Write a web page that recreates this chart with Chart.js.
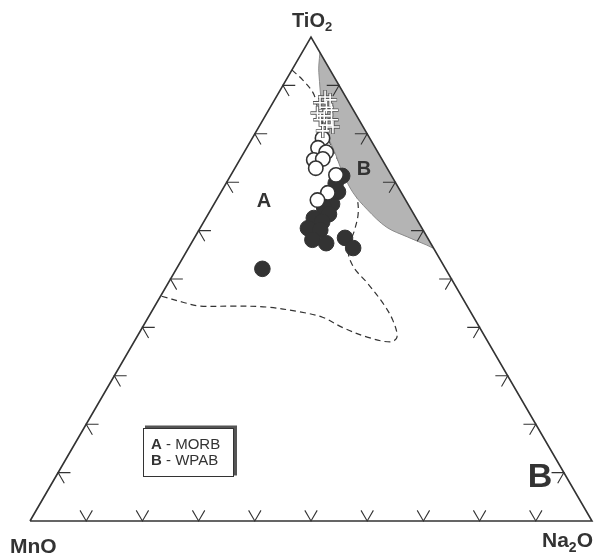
<!DOCTYPE html>
<html>
<head>
<meta charset="utf-8">
<script src="https://cdn.jsdelivr.net/npm/chart.js@4.4.0/dist/chart.umd.min.js"></script>
<style>
html, body { margin: 0; padding: 0; background: #fff; }
#wrap { position: relative; width: 595px; height: 557px; }
</style>
</head>
<body>
<div id="wrap"><canvas id="mychart" width="595" height="557"></canvas></div>
<script>
// values, each point is [TiO2, MnO, Na2O] in %
var crosses = [
    [87.6, 3.7, 8.7], [87.0, 3.1, 9.9], [86.4, 5.2, 8.4], [85.5, 4.5, 10.0],
    [84.9, 3.9, 11.2], [84.3, 6.7, 9.0], [83.7, 5.8, 10.5], [82.9, 4.9, 12.2],
    [82.9, 6.9, 10.2], [81.8, 6.3, 11.9], [81.4, 5.4, 13.2], [80.6, 7.6, 11.8]
];
var openDots = [
    [79.1, 8.4, 12.5], [77.1, 10.2, 12.7], [76.2, 9.2, 14.6], [74.6, 12.2, 13.2],
    [74.8, 10.5, 14.7], [72.9, 12.7, 14.4], [71.5, 9.8, 18.7], [67.8, 13.1, 19.1],
    [66.3, 15.7, 18.0]
];
var fullDots = [
    [71.3, 8.8, 19.9], [69.8, 10.7, 19.5], [68.0, 11.2, 20.8], [65.5, 13.5, 21.0],
    [64.7, 15.3, 20.0], [63.4, 15.1, 21.5], [62.6, 18.2, 19.2], [61.8, 17.1, 21.1],
    [60.5, 20.3, 19.2], [60.1, 18.3, 21.6], [58.1, 20.7, 21.2], [57.4, 18.6, 24.0],
    [58.5, 14.7, 26.8], [56.4, 14.3, 29.3], [52.1, 32.6, 15.3]
];
// field A (MORB) dashed outline
var fieldA = [
    [93.2, 6.8, 0], [91.1, 5.9, 3.0], [88.4, 5.4, 6.2], [85.5, 6.1, 8.4],
    [82.4, 6.8, 10.8], [78.7, 7.5, 13.8], [74.6, 7.9, 17.5], [70.5, 7.8, 21.7],
    [66.9, 8.4, 24.7], [63.6, 9.8, 26.6], [60.1, 12.2, 27.7], [56.0, 15.4, 28.6],
    [52.5, 16.2, 31.3], [49.2, 15.4, 35.4], [45.0, 14.7, 40.3], [41.5, 14.7, 43.8],
    [38.0, 15.7, 46.3], [37.0, 17.4, 45.6], [38.0, 21.0, 41.0], [39.9, 24.3, 35.8],
    [42.1, 26.9, 31.0], [43.2, 30.4, 26.4], [44.2, 35.7, 20.1], [44.4, 41.7, 13.9],
    [44.4, 47.6, 8.0], [45.2, 50.2, 4.6], [46.5, 53.5, 0]
];
// field B (WPAB) grey area, closed along the TiO2-Na2O side
var fieldB = [
    [96.8, 0, 3.2], [94.2, 1.5, 4.3], [92.6, 2.3, 5.1], [85.5, 5.3, 9.2],
    [80.2, 7.1, 12.7], [76.0, 7.7, 16.3], [71.9, 8.4, 19.7], [67.8, 8.6, 23.6],
    [64.3, 7.8, 27.9], [60.7, 6.2, 33.1], [58.7, 3.5, 37.8], [57.0, 0.9, 42.1],
    [56.3, 0, 43.7]
];
var tickSteps = [10, 20, 30, 40, 50, 60, 70, 80, 90];
var legendRows = [['A', ' - MORB'], ['B', ' - WPAB']];

function tern(p) {
    var s = p[0] + p[1] + p[2];
    var ti = p[0] / s * 100, na = p[2] / s * 100;
    return { x: na + ti / 2, y: ti };
}

var frame = [{x: 0, y: 0}, {x: 100, y: 0}, {x: 50, y: 100}, {x: 0, y: 0}];

// tick marks: two short strokes parallel to the other sides
var tk = 2.2;
var ticks = [];
tickSteps.forEach(function (t) {
    // bottom (MnO - Na2O)
    ticks.push({x: t - tk / 2, y: tk}, {x: t, y: 0}, {x: t + tk / 2, y: tk}, {x: 0, y: null});
    // left (MnO - TiO2)
    var lx = t / 2;
    ticks.push({x: lx + tk, y: t}, {x: lx, y: t}, {x: lx + tk / 2, y: t - tk}, {x: 0, y: null});
    // right (Na2O - TiO2)
    var rx = 100 - t / 2;
    ticks.push({x: rx - tk, y: t}, {x: rx, y: t}, {x: rx - tk / 2, y: t - tk}, {x: 0, y: null});
});

var ink = '#333333';
var bold = 'bold ';
var face = '"Liberation Sans", Arial, sans-serif';

function parts(ctx, list, x, y, size) {
    // list of [text, isSub]
    list.forEach(function (p) {
        var s = p[1] ? Math.round(size * 0.65) : size;
        ctx.font = bold + s + 'px ' + face;
        ctx.fillText(p[0], x, p[1] ? y + size * 0.22 : y);
        x += ctx.measureText(p[0]).width;
    });
}

var labelsPlugin = {
    id: 'ternLabels',
    afterDraw: function (chart) {
        var ctx = chart.ctx;
        ctx.save();
        ctx.fillStyle = ink;
        ctx.textBaseline = 'alphabetic';
        ctx.textAlign = 'left';
        parts(ctx, [['TiO', 0], ['2', 1]], 292, 27, 20);
        parts(ctx, [['MnO', 0]], 10, 553, 21);
        parts(ctx, [['Na', 0], ['2', 1], ['O', 0]], 542, 547, 21);

        ctx.textAlign = 'center';
        ctx.font = bold + '20px ' + face;
        ctx.fillText('A', 264, 207);
        ctx.fillText('B', 364, 175);
        ctx.font = bold + '34px ' + face;
        ctx.fillText('B', 540, 487);

        // legend box with offset shadow
        ctx.fillStyle = '#555';
        ctx.fillRect(145, 425.5, 92, 50);
        ctx.fillStyle = '#fff';
        ctx.fillRect(143, 428, 91, 49);
        ctx.strokeStyle = ink;
        ctx.lineWidth = 1;
        ctx.strokeRect(143.5, 428.5, 90, 48);
        ctx.fillStyle = ink;
        ctx.textAlign = 'left';
        legendRows.forEach(function (r, i) {
            var y = 449 + i * 16;
            ctx.font = bold + '15px ' + face;
            ctx.fillText(r[0], 151, y);
            var w = ctx.measureText(r[0]).width;
            ctx.font = '15px ' + face;
            ctx.fillText(r[1], 151 + w, y);
        });
        ctx.restore();
    }
};

var ctx = document.getElementById('mychart');
var myChart = new Chart(ctx, {
    type: 'scatter',
    data: {
        datasets: [
            {
                label: 'crosses',
                data: crosses.map(tern),
                pointStyle: 'cross',
                pointRadius: 6.5,
                borderColor: '#ffffff',
                borderWidth: 1.6,
                order: 0,
                clip: false
            },
            {
                label: 'crosses outline',
                data: crosses.map(tern),
                pointStyle: 'cross',
                pointRadius: 7,
                borderColor: '#555555',
                borderWidth: 3.4,
                order: 1,
                clip: false
            },
            {
                label: 'open',
                data: openDots.map(tern),
                pointRadius: 7.2,
                backgroundColor: '#ffffff',
                borderColor: ink,
                borderWidth: 1.6,
                order: 2,
                clip: false
            },
            {
                label: 'full',
                data: fullDots.map(tern),
                pointRadius: 7.8,
                backgroundColor: ink,
                borderColor: ink,
                borderWidth: 1,
                order: 3,
                clip: false
            },
            {
                label: 'frame',
                data: frame,
                showLine: true,
                pointRadius: 0,
                borderColor: ink,
                borderWidth: 1.6,
                borderJoinStyle: 'miter',
                order: 4,
                clip: false
            },
            {
                label: 'ticks',
                data: ticks,
                showLine: true,
                spanGaps: false,
                pointRadius: 0,
                borderColor: ink,
                borderWidth: 1.1,
                order: 4,
                clip: false
            },
            {
                label: 'field B',
                data: fieldB.map(tern),
                showLine: true,
                pointRadius: 0,
                tension: 0.35,
                borderColor: '#8a8a8a',
                borderWidth: 1,
                backgroundColor: '#b4b4b4',
                fill: 'shape',
                order: 5,
                clip: false
            },
            {
                label: 'field A',
                data: fieldA.map(tern),
                showLine: true,
                pointRadius: 0,
                tension: 0.35,
                borderColor: ink,
                borderWidth: 1.2,
                borderDash: [6, 4],
                order: 6,
                clip: false
            }
        ]
    },
    options: {
        responsive: false,
        animation: false,
        layout: { autoPadding: false, padding: { left: 30, right: 3, top: 37, bottom: 36 } },
        scales: {
            x: { type: 'linear', min: 0, max: 100, display: false },
            y: { type: 'linear', min: 0, max: 100, display: false }
        },
        plugins: {
            legend: { display: false },
            tooltip: { enabled: false }
        }
    },
    plugins: [labelsPlugin]
});
</script>
</body>
</html>
